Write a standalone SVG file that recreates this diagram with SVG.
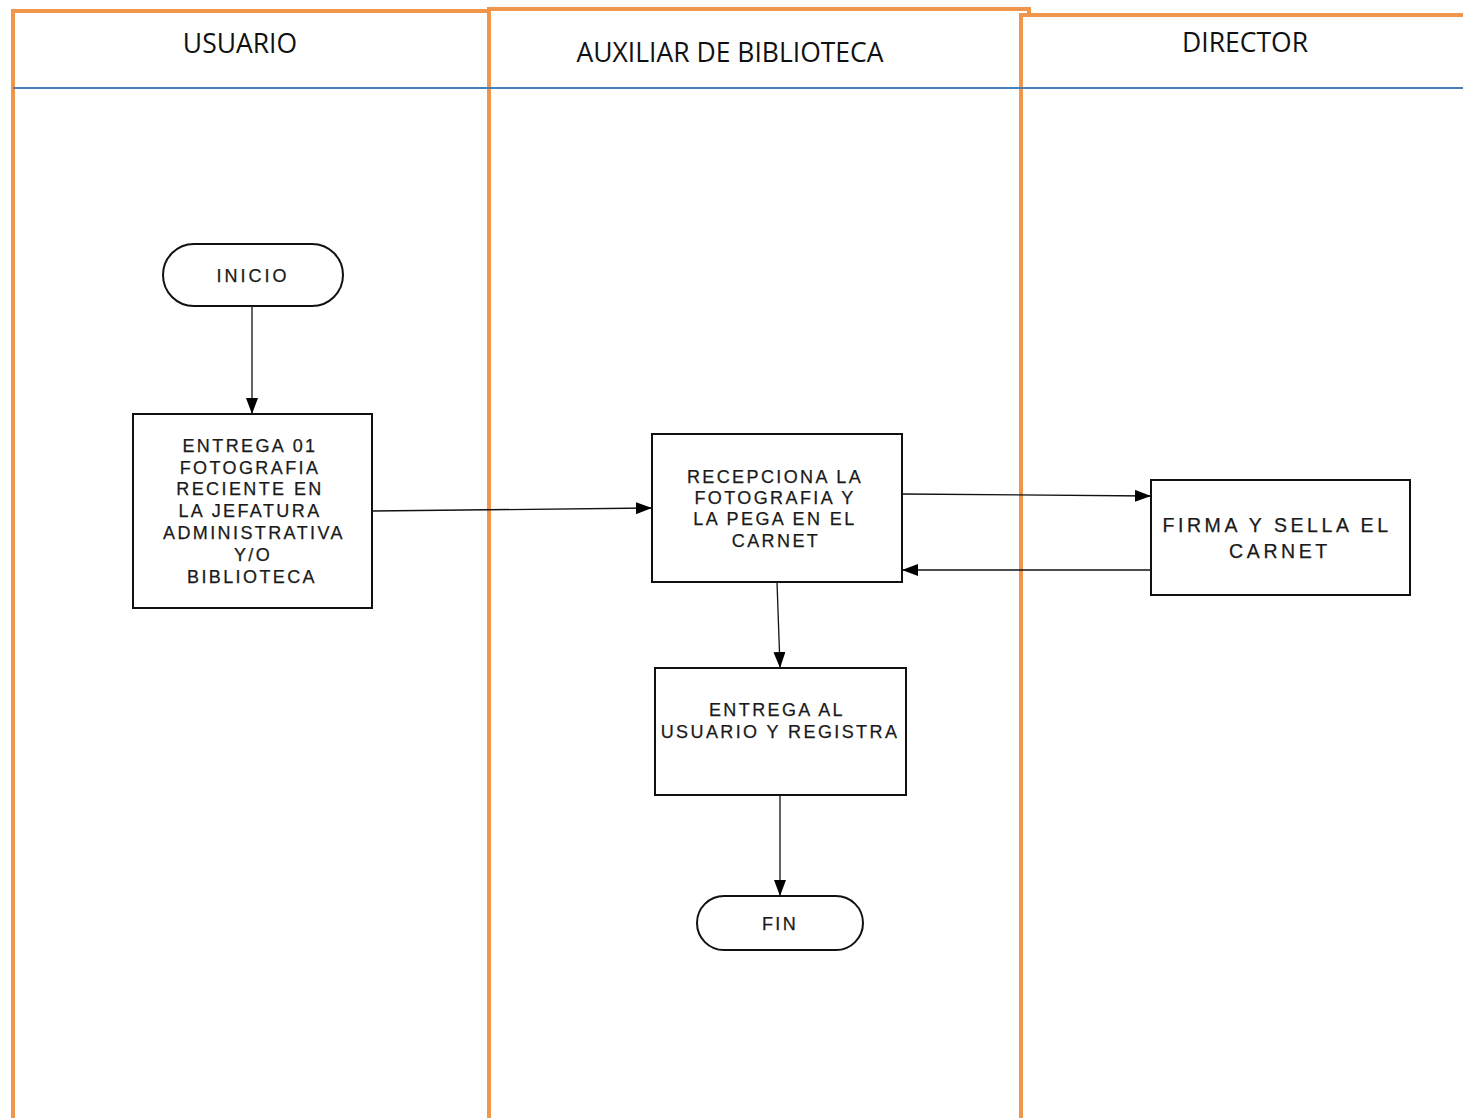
<svg xmlns="http://www.w3.org/2000/svg" width="1463" height="1118" viewBox="0 0 1463 1118">
<style>
.lane{fill:none;stroke:#F0964A;stroke-width:4}
.hdr{stroke:#4A7EBB;stroke-width:2}
.ht{font-family:"Open Sans","Liberation Sans",sans-serif;font-size:26.5px;fill:#111;text-anchor:middle}
.box{fill:#fff;stroke:#111;stroke-width:2}
.t{font-family:"Liberation Sans",Arial,sans-serif;font-size:18px;fill:#1a1a1a;stroke:#1a1a1a;stroke-width:0.25;text-anchor:middle;letter-spacing:2.4px}
.tw{font-family:"Liberation Sans",Arial,sans-serif;font-size:19.5px;fill:#1a1a1a;stroke:#1a1a1a;stroke-width:0.25;text-anchor:middle;letter-spacing:3.6px}
.c{fill:none;stroke:#111;stroke-width:1.3}
</style>
<defs>
<marker id="ah" markerWidth="16" markerHeight="12" refX="15" refY="6" orient="auto" markerUnits="userSpaceOnUse">
<path d="M0,0 L16,6 L0,12 Z" fill="#000"/>
</marker>
</defs>
<rect width="1463" height="1118" fill="#fff"/>
<g id="lanes">
<path class="lane" d="M13,1118 V11 H489"/>
<path class="lane" d="M489,1118 V9 H1029 V15"/>
<path class="lane" d="M1021,1118 V15 H1463"/>
<line class="hdr" x1="13" y1="88" x2="1463" y2="88"/>
<text class="ht" x="240" y="53">USUARIO</text>
<text class="ht" x="730" y="62">AUXILIAR DE BIBLIOTECA</text>
<text class="ht" x="1245" y="52">DIRECTOR</text>
</g>
<g id="connectors">
<line class="c" x1="252" y1="306" x2="252" y2="413" marker-end="url(#ah)"/>
<line class="c" x1="372" y1="511" x2="651" y2="508" marker-end="url(#ah)"/>
<line class="c" x1="902" y1="494" x2="1150" y2="496" marker-end="url(#ah)"/>
<line class="c" x1="1151" y1="570" x2="903" y2="570" marker-end="url(#ah)"/>
<line class="c" x1="777" y1="582" x2="780" y2="667" marker-end="url(#ah)"/>
<line class="c" x1="780" y1="795" x2="780" y2="895" marker-end="url(#ah)"/>
</g>
<g id="inicio">
<rect class="box" x="163" y="244" width="180" height="62" rx="31"/>
<text class="t" x="253" y="282" style="letter-spacing:3px">INICIO</text>
</g>
<g id="entrega-foto">
<rect class="box" x="133" y="414" width="239" height="194"/>
<text class="t" x="250" y="452">ENTREGA 01</text>
<text class="t" x="250" y="474">FOTOGRAFIA</text>
<text class="t" x="250" y="495">RECIENTE EN</text>
<text class="t" x="250" y="517">LA JEFATURA</text>
<text class="t" x="254" y="539">ADMINISTRATIVA</text>
<text class="t" x="253" y="561">Y/O</text>
<text class="t" x="252" y="583">BIBLIOTECA</text>
</g>
<g id="recepciona">
<rect class="box" x="652" y="434" width="250" height="148"/>
<text class="t" x="775" y="483">RECEPCIONA LA</text>
<text class="t" x="775" y="504">FOTOGRAFIA Y</text>
<text class="t" x="775" y="525">LA PEGA EN EL</text>
<text class="t" x="776" y="547">CARNET</text>
</g>
<g id="firma">
<rect class="box" x="1151" y="480" width="259" height="115"/>
<text class="tw" x="1277" y="532">FIRMA Y SELLA EL</text>
<text class="tw" x="1280" y="558">CARNET</text>
</g>
<g id="entrega-usuario">
<rect class="box" x="655" y="668" width="251" height="127"/>
<text class="t" x="777" y="716">ENTREGA AL</text>
<text class="t" x="780" y="738">USUARIO Y REGISTRA</text>
</g>
<g id="fin">
<rect class="box" x="697" y="896" width="166" height="54" rx="27"/>
<text class="t" x="780" y="930">FIN</text>
</g>
</svg>
